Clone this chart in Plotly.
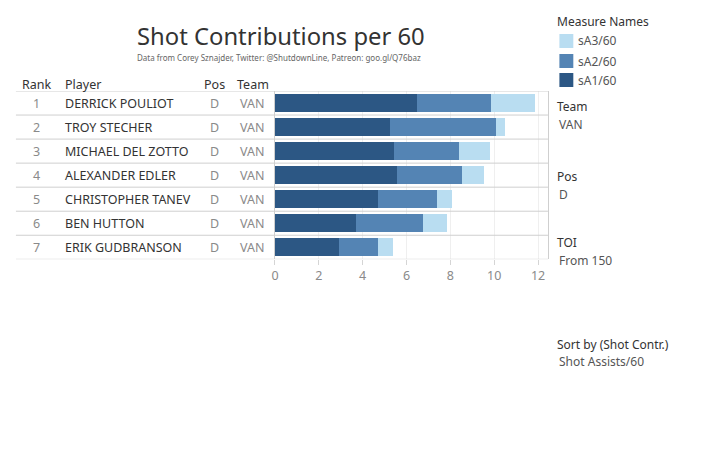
import plotly.graph_objects as go

ranks = [1, 2, 3, 4, 5, 6, 7]
players = ["DERRICK POULIOT", "TROY STECHER", "MICHAEL DEL ZOTTO", "ALEXANDER EDLER",
           "CHRISTOPHER TANEV", "BEN HUTTON", "ERIK GUDBRANSON"]
pos = ["D", "D", "D", "D", "D", "D", "D"]
team = ["VAN", "VAN", "VAN", "VAN", "VAN", "VAN", "VAN"]
sA1 = [6.47, 5.24, 5.42, 5.56, 4.70, 3.70, 2.93]
sA2 = [3.36, 4.82, 2.96, 2.96, 2.68, 3.04, 1.77]
sA3 = [2.05, 0.45, 1.41, 1.00, 0.68, 1.09, 0.68]
x_ticks = [0, 2, 4, 6, 8, 10, 12]

series_names = ["sA1/60", "sA2/60", "sA3/60"]
series_vals = [sA1, sA2, sA3]
colors = ["#2c5784", "#5484b4", "#b9ddf1"]

W, H = 719, 459
FONT = "Noto Sans"
LS = -3  # compensate annotation padding for left-anchored texts

def px(x):
    return x / W

def py(y):
    return 1 - y / H

fig = go.Figure()
for name, vals, c in zip(series_names, series_vals, colors):
    fig.add_trace(go.Bar(x=vals, y=ranks, orientation="h", name=name,
                         marker=dict(color=c, line=dict(width=0)),
                         showlegend=False, hoverinfo="x+name"))

ann = []
shapes = []
# header
hdr_y = py(84)
for txt, x, anc in [("Rank", 33, "center"), ("Player", 62, "left"),
                    ("Pos", 212, "center"), ("Team", 250, "center")]:
    ann.append(dict(text=txt, x=px(x), y=hdr_y, xref="paper", yref="paper",
                    xanchor=anc, yanchor="middle", showarrow=False,
                    xshift=LS if anc == "left" else 0,
                    font=dict(family=FONT, size=12.5, color="#333333")))
# table rows
for r, p, ps, t in zip(ranks, players, pos, team):
    ann.append(dict(text=str(r), x=px(33), y=r, xref="paper", yref="y",
                    xanchor="center", showarrow=False,
                    font=dict(family=FONT, size=12.5, color="#8a8a8a")))
    ann.append(dict(text=p, x=px(62), y=r, xref="paper", yref="y",
                    xanchor="left", showarrow=False, xshift=LS,
                    font=dict(family=FONT, size=12.5, color="#333333")))
    ann.append(dict(text=ps, x=px(212), y=r, xref="paper", yref="y",
                    xanchor="center", showarrow=False,
                    font=dict(family=FONT, size=12.5, color="#8a8a8a")))
    ann.append(dict(text=t, x=px(250), y=r, xref="paper", yref="y",
                    xanchor="center", showarrow=False,
                    font=dict(family=FONT, size=12.5, color="#8a8a8a")))
# row separators
for i in range(len(ranks) + 1):
    shapes.append(dict(type="line", xref="paper", yref="y",
                       x0=px(12), x1=px(547), y0=i + 0.5, y1=i + 0.5,
                       line=dict(color="#cfcfcf", width=1), layer="above"))

# title
ann.append(dict(text="Shot Contributions per 60", x=px(279), y=py(36),
                xref="paper", yref="paper", xanchor="center", yanchor="middle",
                showarrow=False, font=dict(family=FONT, size=23.8, color="#333333")))
ann.append(dict(text="Data from Corey Sznajder, Twitter: @ShutdownLine, Patreon: goo.gl/Q76baz",
                x=px(277), y=py(57), xref="paper", yref="paper", xanchor="center",
                yanchor="middle", showarrow=False,
                font=dict(family=FONT, size=8, color="#666666")))

# side panel
side = [("Measure Names", 557, 22, "#333333"),
        ("Team", 557, 106, "#333333"), ("VAN", 559, 124, "#555555"),
        ("Pos", 557, 176, "#333333"), ("D", 559, 194, "#555555"),
        ("TOI", 557, 242, "#333333"), ("From 150", 559, 260, "#555555"),
        ("Sort by (Shot Contr.)", 557, 344, "#333333"),
        ("Shot Assists/60", 559, 361, "#555555")]
for txt, x, y, c in side:
    ann.append(dict(text=txt, x=px(x), y=py(y), xref="paper", yref="paper",
                    xanchor="left", yanchor="middle", showarrow=False, xshift=LS,
                    font=dict(family=FONT, size=12, color=c)))
# legend (manual), top item is last series
leg_y = [41, 61, 80]
for yy, name, c in zip(leg_y, series_names[::-1], colors[::-1]):
    shapes.append(dict(type="rect", xref="paper", yref="paper",
                       x0=px(558.5), x1=px(572.5), y0=py(yy - 7), y1=py(yy + 7),
                       fillcolor=c, line=dict(width=0)))
    ann.append(dict(text=name, x=px(578), y=py(yy), xref="paper", yref="paper",
                    xanchor="left", yanchor="middle", showarrow=False, xshift=LS,
                    font=dict(family=FONT, size=12, color="#555555")))

fig.update_layout(
    width=W, height=H, barmode="stack", bargap=0.26,
    margin=dict(l=0, r=0, t=0, b=0),
    paper_bgcolor="white", plot_bgcolor="white",
    font=dict(family=FONT),
    xaxis=dict(domain=[px(272.5), px(547)], range=[0, 12.45],
               tickvals=x_ticks, ticktext=[str(v) for v in x_ticks],
               showgrid=True, gridcolor="#efefef", gridwidth=1,
               zeroline=False, showline=False,
               ticks="outside", ticklen=5, tickcolor="#d5d5d5",
               tickfont=dict(family=FONT, size=12.5, color="#8a8a8a")),
    yaxis=dict(domain=[py(259.3), py(91)], range=[7.5, 0.5],
               showticklabels=False, showgrid=False, zeroline=False,
               showline=True, mirror=True, linecolor="#cfcfcf", linewidth=1,
               ticks=""),
    annotations=ann, shapes=shapes,
)

fig.write_html("out.html", config={"displayModeBar": False},
               post_script="document.body.style.margin='0';")
